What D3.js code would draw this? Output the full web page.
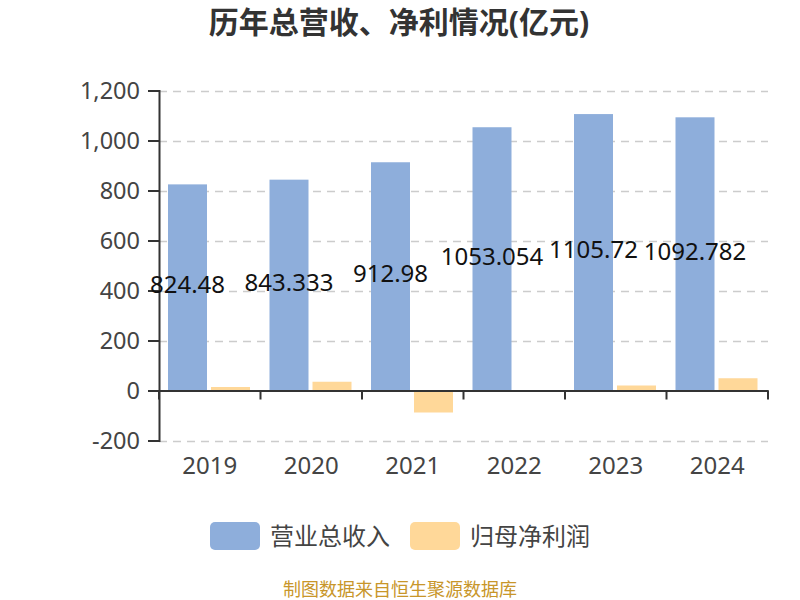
<!DOCTYPE html>
<html><head><meta charset="utf-8">
<script src="https://cdn.jsdelivr.net/npm/d3@7"></script>
<style>body{margin:0;background:#fff;}svg{display:block;font-family:"Noto Sans","Noto Sans CJK SC",sans-serif;}</style>
</head><body>
<svg id="c" width="800" height="600"></svg>
<script>
const years = ["2019","2020","2021","2022","2023","2024"];
const revenue = [824.48, 843.333, 912.98, 1053.054, 1105.72, 1092.782];
const netProfit = [14, 35, -88, -3, 20, 49];
const seriesNames = ["营业总收入","归母净利润"];
const yTicks = [-200,0,200,400,600,800,1000,1200];
const colors = ["#8eaedb","#ffd899"];

(function(){
const svg = d3.select("#c");
const pLeft = 159, pRight = 768, pTop = 90.5, pBottom = 440.5;
const x = d3.scaleBand().domain(years).range([pLeft, pRight]);
const y = d3.scaleLinear().domain([-200,1200]).range([pBottom, pTop]);

svg.append("text").attr("x",399).attr("y",33).attr("text-anchor","middle")
  .attr("font-size",30).attr("font-weight","bold").attr("fill","#333").text("历年总营收、净利情况(亿元)");

// grid
svg.append("g").selectAll("line").data(yTicks.filter(d=>d!==0)).join("line")
  .attr("x1",pLeft).attr("x2",pRight).attr("y1",d=>Math.round(y(d))+0.5).attr("y2",d=>Math.round(y(d))+0.5)
  .attr("stroke","#ccc").attr("stroke-dasharray","8,6").attr("stroke-width",1.5);

// y axis
const fmt = d3.format(",");
const yAxis = svg.append("g").attr("transform",`translate(${pLeft},0)`)
  .call(d3.axisLeft(y).tickValues(yTicks).tickSize(11).tickPadding(8).tickFormat(d=>fmt(d).replace("−","-")));
yAxis.select(".domain").attr("stroke","#333").attr("stroke-width",2);
yAxis.selectAll(".tick line").attr("stroke","#333").attr("stroke-width",2);
yAxis.selectAll("text").attr("font-size",23.5).attr("fill","#444").attr("font-family","Noto Sans");

const bw = 39, off = 9, gap = 4;
const g = svg.append("g");
g.selectAll("rect.rev").data(years).join("rect").attr("class","rev")
  .attr("x",d=>x(d)+off).attr("width",bw)
  .attr("y",(d,i)=>y(revenue[i])).attr("height",(d,i)=>y(0)-y(revenue[i]))
  .attr("fill",colors[0]);
g.selectAll("rect.np").data(years).join("rect").attr("class","np")
  .attr("x",d=>x(d)+off+bw+gap).attr("width",bw)
  .attr("y",(d,i)=>y(Math.max(0,netProfit[i]))).attr("height",(d,i)=>Math.abs(y(0)-y(netProfit[i])))
  .attr("fill",colors[1]);

// x axis at zero
const xAxis = svg.append("g").attr("transform",`translate(0,${y(0)})`)
  .call(d3.axisBottom(x).tickSize(0).tickFormat(""));
xAxis.select(".domain").attr("stroke","#333").attr("stroke-width",2);
svg.append("g").selectAll("line").data(d3.range(years.length+1)).join("line")
  .attr("x1",i=>pLeft+i*x.step()).attr("x2",i=>pLeft+i*x.step())
  .attr("y1",y(0)).attr("y2",y(0)+9).attr("stroke","#333").attr("stroke-width",2);
svg.append("g").selectAll("text").data(years).join("text")
  .attr("x",d=>x(d)+x.bandwidth()/2).attr("y",474).attr("text-anchor","middle")
  .attr("font-size",24).attr("fill","#444").text(d=>d);

// labels
svg.append("g").selectAll("text").data(years).join("text")
  .attr("x",d=>x(d)+off+bw/2).attr("y",(d,i)=>y(revenue[i]/2)+6)
  .attr("text-anchor","middle").attr("font-size",24).attr("fill","#111").text((d,i)=>revenue[i]);

// legend
const leg = svg.append("g");
const lx = [210, 410];
seriesNames.forEach((n,i)=>{
  leg.append("rect").attr("x",lx[i]).attr("y",522).attr("width",50).attr("height",28).attr("rx",5).attr("fill",colors[i]);
  leg.append("text").attr("x",lx[i]+60).attr("y",545).attr("font-size",24).attr("fill","#444").text(n);
});

svg.append("text").attr("x",400).attr("y",596).attr("text-anchor","middle")
  .attr("font-size",18).attr("fill","#c8962a").text("制图数据来自恒生聚源数据库");
})();
</script>
</body></html>
